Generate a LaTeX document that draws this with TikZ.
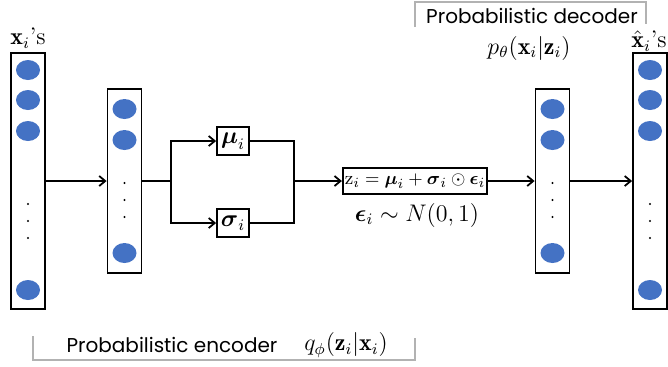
\documentclass[tikz,border=0pt]{standalone}
\usepackage{amsmath,fontspec}
\usetikzlibrary{arrows.meta}
\newfontfamily\capfont{Poppins}
\definecolor{unitblue}{RGB}{68,114,196}

\begin{document}
\begin{tikzpicture}[x=0.5pt,y=-0.5pt,line width=0.9pt,>={Straight Barb[length=3pt,width=5pt]},
  layer/.style={draw,minimum width=17pt,inner sep=0pt},
  op/.style={draw,inner sep=1.5pt,font=\large},
  brace/.style={gray!60,line width=0.6pt}]
\useasboundingbox (0,0) rectangle (668,366);
\node[layer,minimum height=128pt] (in) at (28,181) {};
\node[layer,minimum height=92pt] (h1) at (124.5,181) {};
\node[layer,minimum height=92pt] (h2) at (552.5,181) {};
\node[layer,minimum height=128pt] (out) at (650,181) {};
\foreach \x in {28,650}{
  \foreach \y in {70,100,131,290}{\fill[unitblue] (\x,\y) ellipse (6pt and 5pt);}
  \foreach \y in {204,221,238}{\fill (\x,\y) circle (0.6pt);}}
\foreach \x in {124.5,552.5}{
  \foreach \y in {109,140,253}{\fill[unitblue] (\x,\y) ellipse (6pt and 5pt);}
  \foreach \y in {183,200,217}{\fill (\x,\y) circle (0.6pt);}}
\node[op,minimum width=16pt,minimum height=14pt] (mu) at (233,141) {$\boldsymbol{\mu}_i$};
\node[op,minimum width=16pt,minimum height=14pt] (sigma) at (233,223) {$\boldsymbol{\sigma}_i$};
\node[op,inner sep=1pt,minimum height=13pt,font=\fontsize{9.3}{11}\selectfont] (z) at (415,181)
  {$\mathrm{z}_i=\boldsymbol{\mu}_i+\boldsymbol{\sigma}_i\odot\boldsymbol{\epsilon}_i$};
\coordinate (split) at (171,181);
\coordinate (join) at (294,181);
\draw[->] (in) -- (h1);
\draw (h1) -- (split);
\draw[->] (split) |- (mu);
\draw[->] (split) |- (sigma);
\draw (mu) -| (join);
\draw (sigma) -| (join);
\draw[->] (join) -- (z);
\draw[->] (z) -- (h2);
\draw[->] (h2) -- (out);
% labels
\node[font=\large] (xlab) at (28,38) {$\mathbf{x}_i$'s};
\node[font=\large] (xhatlab) at (649,41) {$\hat{\mathbf{x}}_i$'s};
\node[font=\large] (eps) at (417,215) {$\boldsymbol{\epsilon}_i\sim N(0,1)$};
\node[font=\capfont] (declab) at (532,16) {Probabilistic decoder};
\node[font=\large] (pdec) at (529,48) {$p_\theta(\mathbf{x}_i|\mathbf{z}_i)$};
\node[font=\capfont] (enclab) at (172,345) {Probabilistic encoder};
\node[font=\large] (qenc) at (346,345) {$q_\phi(\mathbf{z}_i|\mathbf{x}_i)$};
\draw[brace] (415,27) -- (415,2) -- (646,2) -- (646,24);
\draw[brace] (33,336) -- (33,360) -- (415,360) -- (415,338);
\end{tikzpicture}
\end{document}
